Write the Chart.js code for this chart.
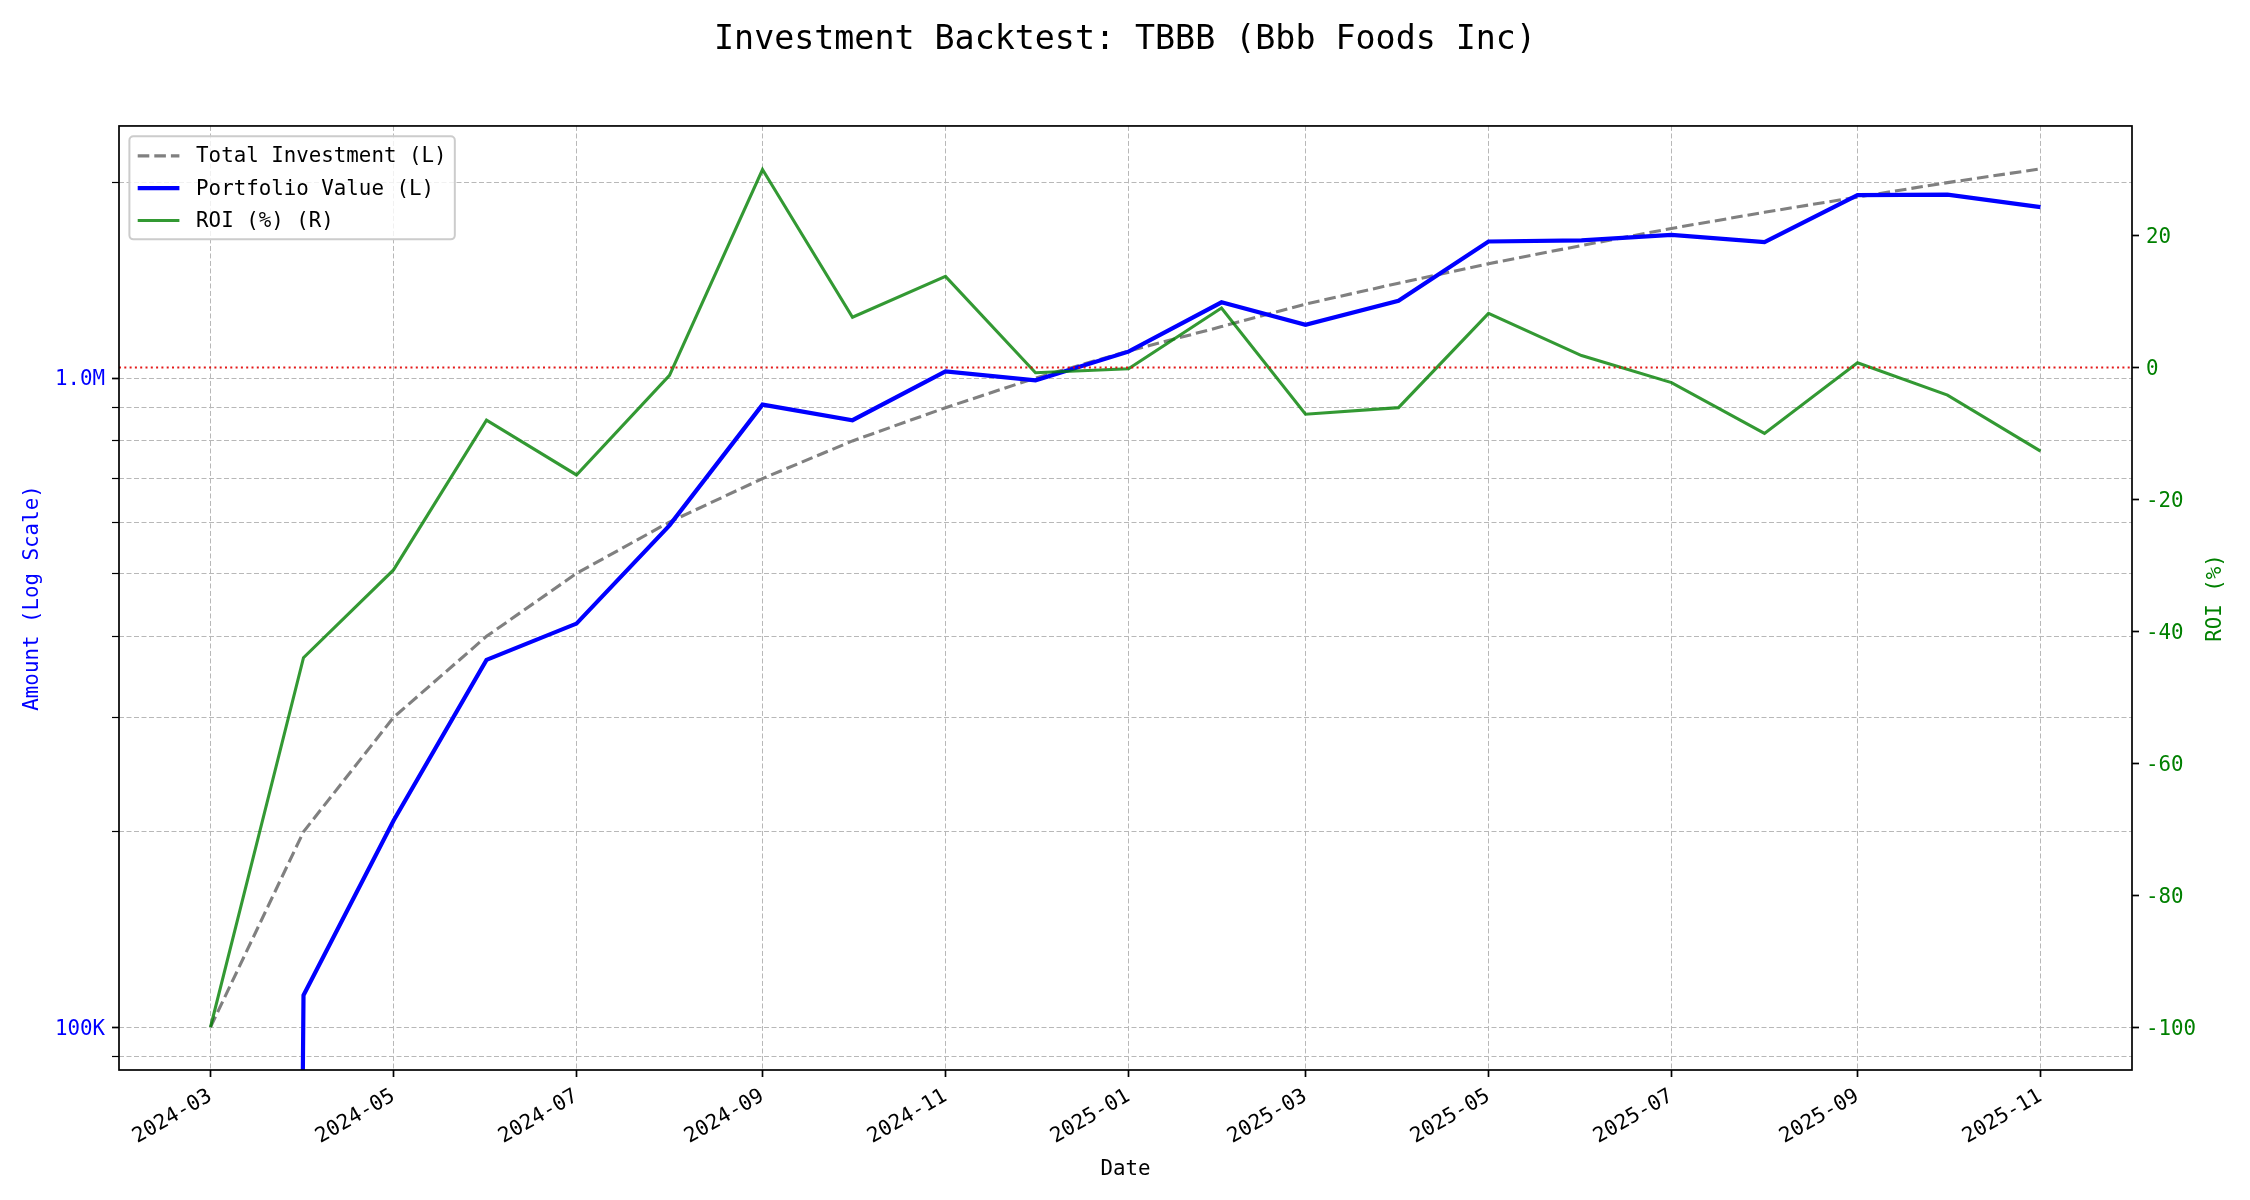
<!DOCTYPE html>
<html>
<head>
<meta charset="utf-8">
<script src="https://cdn.jsdelivr.net/npm/chart.js@4.4.1/dist/chart.umd.min.js"></script>
<style>
  html, body { margin: 0; padding: 0; background: #fff; }
  #wrap { width: 2250px; height: 1200px; }
</style>
</head>
<body>
<div id="wrap"><canvas id="chart" width="2250" height="1200"></canvas></div>
<script>
// monthly backtest points
const months = ['2024-03-01', '2024-04-01', '2024-05-01', '2024-06-01', '2024-07-01', '2024-08-01',
  '2024-09-01', '2024-10-01', '2024-11-01', '2024-12-01', '2025-01-01', '2025-02-01', '2025-03-01',
  '2025-04-01', '2025-05-01', '2025-06-01', '2025-07-01', '2025-08-01', '2025-09-01', '2025-10-01',
  '2025-11-01'];
const totalInvestment = [100000, 200000, 300000, 400000, 500000, 600000, 700000, 800000, 900000,
  1000000, 1100000, 1200000, 1300000, 1400000, 1500000, 1600000, 1700000, 1800000, 1900000,
  2000000, 2100000];
const portfolioValue = [0, 112000, 208000, 368000, 418500, 593000, 910000, 861000, 1024000,
  992000, 1098000, 1308000, 1208000, 1315000, 1623000, 1629000, 1661000, 1620000, 1913000,
  1916000, 1833000];
const roiPct = [-100, -44.0, -30.7, -8.0, -16.3, -1.2, 30.0, 7.6, 13.8, -0.8, -0.2, 9.0, -7.1,
  -6.1, 8.2, 1.8, -2.3, -10.0, 0.7, -4.2, -12.7];

const xTickLabels = ['2024-03', '2024-05', '2024-07', '2024-09', '2024-11', '2025-01', '2025-03',
  '2025-05', '2025-07', '2025-09', '2025-11'];
const leftTicks = [90000, 100000, 200000, 300000, 400000, 500000, 600000, 700000, 800000, 900000,
  1000000, 2000000];
const leftTickLabels = { 100000: '100K', 1000000: '1.0M' };
const rightTicks = [-100, -80, -60, -40, -20, 0, 20];

const FONT = "'DejaVu Sans Mono', 'Liberation Mono', monospace";
const FS = 20.8;
const GRID = '#b8b8b8';

const day0 = Date.parse(months[0]);
const toDay = s => (Date.parse(s) - day0) / 864e5;
const span = toDay(months[months.length - 1]);

function pts(values, fix) {
  return months.map((m, i) => ({ x: toDay(m), y: fix ? fix(values[i]) : values[i] }));
}

// matplotlib-ish frame, zero line, right label and legend
const decor = {
  id: 'decor',
  afterDatasetsDraw(chart) {
    const { ctx, chartArea: a, scales } = chart;
    const y0 = scales.y1.getPixelForValue(0);
    ctx.save();
    ctx.strokeStyle = 'rgba(225,0,0,0.9)';
    ctx.lineWidth = 2;
    ctx.setLineDash([2, 3.3]);
    ctx.beginPath();
    ctx.moveTo(a.left, y0);
    ctx.lineTo(a.right, y0);
    ctx.stroke();
    ctx.setLineDash([]);
    ctx.strokeStyle = '#000';
    ctx.lineWidth = 1.7;
    ctx.strokeRect(a.left, a.top, a.right - a.left, a.bottom - a.top);
    ctx.restore();
  },
  afterDraw(chart) {
    const { ctx, chartArea: a } = chart;
    ctx.save();
    // right axis label, reading bottom to top
    ctx.translate(2215.5, (a.top + a.bottom) / 2);
    ctx.rotate(-Math.PI / 2);
    ctx.font = FS + 'px ' + FONT;
    ctx.fillStyle = '#008000';
    ctx.textAlign = 'center';
    ctx.textBaseline = 'middle';
    ctx.fillText('ROI (%)', 0, 0);
    ctx.restore();

    // legend
    const bx = a.left + 10.4, by = a.top + 10.4;
    ctx.save();
    ctx.font = FS + 'px ' + FONT;
    const items = chart.data.datasets;
    let tw = 0;
    items.forEach(d => { tw = Math.max(tw, ctx.measureText(d.label).width); });
    const w = 8.3 + 41.7 + 16.7 + tw + 8.3;
    const h = 103;
    ctx.beginPath();
    ctx.roundRect(bx, by, w, h, 4);
    ctx.fillStyle = 'rgba(255,255,255,0.8)';
    ctx.fill();
    ctx.strokeStyle = '#cccccc';
    ctx.lineWidth = 2;
    ctx.stroke();
    items.forEach((d, i) => {
      const yy = by + 19.5 + i * 32.3;
      ctx.beginPath();
      ctx.setLineDash(d.borderDash || []);
      ctx.strokeStyle = d.borderColor;
      ctx.lineWidth = d.borderWidth;
      ctx.moveTo(bx + 8.3, yy);
      ctx.lineTo(bx + 8.3 + 41.7, yy);
      ctx.stroke();
      ctx.setLineDash([]);
      ctx.fillStyle = '#000';
      ctx.textAlign = 'left';
      ctx.textBaseline = 'middle';
      ctx.fillText(d.label, bx + 8.3 + 41.7 + 16.7, yy + 1);
    });
    ctx.restore();
  }
};

new Chart(document.getElementById('chart'), {
  type: 'line',
  data: {
    datasets: [{
      label: 'Total Investment (L)',
      data: pts(totalInvestment),
      yAxisID: 'y',
      borderColor: '#808080',
      borderWidth: 3.1,
      borderDash: [11.6, 5],
      pointRadius: 0,
      order: 2,
      clip: 0
    }, {
      label: 'Portfolio Value (L)',
      // log axis can't show 0: a tiny value sends the segment straight down out of view
      data: pts(portfolioValue, v => v > 0 ? v : 1e-12),
      yAxisID: 'y',
      borderColor: '#0000ff',
      borderWidth: 4.2,
      pointRadius: 0,
      order: 1,
      clip: 0
    }, {
      label: 'ROI (%) (R)',
      data: pts(roiPct),
      yAxisID: 'y1',
      borderColor: 'rgba(0,128,0,0.8)',
      borderWidth: 3.1,
      pointRadius: 0,
      order: 0,
      clip: 0
    }]
  },
  options: {
    responsive: false,
    devicePixelRatio: 1,
    animation: false,
    layout: { padding: 0 },
    plugins: {
      legend: { display: false },
      tooltip: { enabled: false },
      title: {
        display: true,
        text: 'Investment Backtest: TBBB (Bbb Foods Inc)',
        color: '#000',
        font: { family: FONT, size: 33.3, weight: 'normal' },
        padding: { top: 20, bottom: 66 }
      }
    },
    scales: {
      x: {
        type: 'linear',
        min: -0.05 * span,
        max: span * 1.05,
        afterBuildTicks: s => { s.ticks = xTickLabels.map(l => ({ value: toDay(l + '-01') })); },
        afterFit: s => { s.height = 130; },
        ticks: {
          autoSkip: false,
          minRotation: 30,
          maxRotation: 30,
          padding: 7,
          color: '#000',
          font: { family: FONT, size: FS },
          callback: (v, i) => xTickLabels[i]
        },
        grid: {
          color: GRID,
          lineWidth: 1,
          tickColor: '#000',
          tickWidth: 1.7,
          tickLength: 7,
          tickBorderDash: []
        },
        border: { display: false, dash: [5, 2.5] },
        title: {
          display: true,
          text: 'Date',
          color: '#000',
          font: { family: FONT, size: FS },
          padding: { top: 0, bottom: 18 }
        }
      },
      y: {
        type: 'logarithmic',
        position: 'left',
        min: 85900,
        max: 2445000,
        afterBuildTicks: s => { s.ticks = leftTicks.map(v => ({ value: v })); },
        afterFit: s => { s.width = 119; },
        ticks: {
          autoSkip: false,
          padding: 7,
          labelOffset: 2,
          color: '#0000ff',
          font: { family: FONT, size: FS },
          callback: v => leftTickLabels[v] || ''
        },
        grid: {
          color: GRID,
          lineWidth: 1,
          tickColor: '#000',
          tickWidth: c => leftTickLabels[c.tick && c.tick.value] ? 1.7 : 1.2,
          tickLength: 7,
          tickBorderDash: []
        },
        border: { display: false, dash: [5, 2.5] },
        title: {
          display: true,
          text: 'Amount (Log Scale)',
          color: '#0000ff',
          font: { family: FONT, size: FS },
          padding: { top: 20.5, bottom: 0 }
        }
      },
      y1: {
        type: 'linear',
        position: 'right',
        min: -106.5,
        max: 36.6,
        afterBuildTicks: s => { s.ticks = rightTicks.map(v => ({ value: v })); },
        afterFit: s => { s.width = 118; },
        ticks: {
          autoSkip: false,
          padding: 7,
          labelOffset: 2,
          color: '#008000',
          font: { family: FONT, size: FS }
        },
        grid: {
          drawOnChartArea: false,
          tickColor: '#000',
          tickWidth: 1.7,
          tickLength: 7
        },
        border: { display: false }
      }
    }
  },
  plugins: [decor]
});
</script>
</body>
</html>
